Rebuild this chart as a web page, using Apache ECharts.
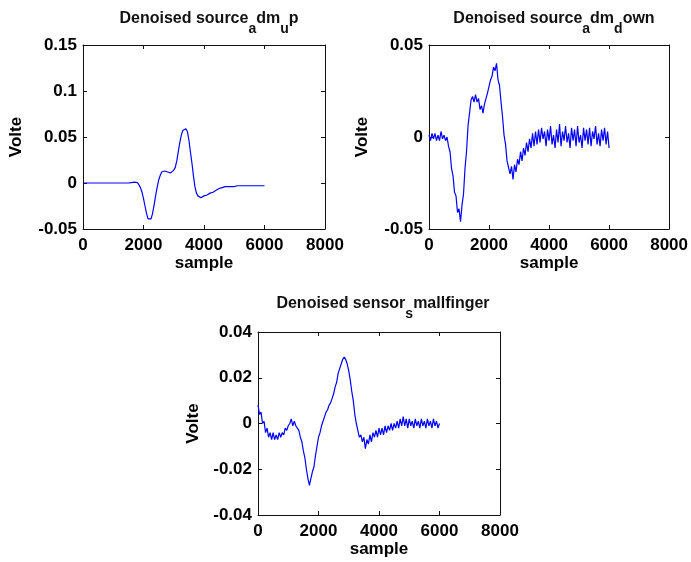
<!DOCTYPE html>
<html>
<head>
<meta charset="utf-8">
<script src="https://cdn.jsdelivr.net/npm/echarts@6/dist/echarts.min.js"></script>
<style>html,body{margin:0;padding:0;background:#fff}#c{width:691px;height:562px}</style>
</head>
<body>
<div id="c"></div>
<script>
// sample positions (every 50 samples, 0..6000)
const samples = [0,50,100,150,200,250,300,350,400,450,500,550,600,650,700,750,800,850,900,950,
1000,1050,1100,1150,1200,1250,1300,1350,1400,1450,1500,1550,1600,1650,1700,1750,1800,1850,1900,1950,
2000,2050,2100,2150,2200,2250,2300,2350,2400,2450,2500,2550,2600,2650,2700,2750,2800,2850,2900,2950,
3000,3050,3100,3150,3200,3250,3300,3350,3400,3450,3500,3550,3600,3650,3700,3750,3800,3850,3900,3950,
4000,4050,4100,4150,4200,4250,4300,4350,4400,4450,4500,4550,4600,4650,4700,4750,4800,4850,4900,4950,
5000,5050,5100,5150,5200,5250,5300,5350,5400,5450,5500,5550,5600,5650,5700,5750,5800,5850,5900,5950,6000];

// Denoised source_a dm_u p
const upValues = [
0,0,0,0,0,0,0,0,0,0,0,0,0,0,0,0,0,0,0,0,
0,0,0,0,0,0,0,0,0,0,0,0,0.0005,0.001,0.001,0.001,0.0005,-0.002,-0.005,-0.010,
-0.017,-0.025,-0.033,-0.039,-0.040,-0.039,-0.033,-0.024,-0.014,-0.005,0.003,0.008,0.012,0.013,0.013,0.013,0.012,0.012,0.011,0.012,
0.014,0.017,0.024,0.034,0.044,0.052,0.057,0.059,0.059,0.056,0.047,0.034,0.022,0.008,-0.004,-0.011,-0.014,-0.016,-0.016,-0.015,
-0.014,-0.013,-0.013,-0.012,-0.011,-0.011,-0.010,-0.009,-0.008,-0.007,-0.006,-0.006,-0.005,-0.005,-0.004,-0.004,-0.004,-0.004,-0.004,-0.004,
-0.004,-0.003,-0.003,-0.003,-0.003,-0.003,-0.003,-0.003,-0.003,-0.003,-0.003,-0.003,-0.003,-0.003,-0.003,-0.003,-0.003,-0.003,-0.003,-0.003,-0.003];

// Denoised source_a dm_d own
const downValues = [
0.001,-0.002,0.002,-0.001,0.002,-0.002,0.001,-0.002,0.003,-0.001,0.001,-0.002,0.000,-0.005,-0.008,-0.017,-0.021,-0.030,-0.032,-0.041,
-0.039,-0.046,-0.037,-0.031,-0.017,-0.008,0.006,0.013,0.020,0.022,0.019,0.023,0.019,0.021,0.015,0.017,0.013,0.018,0.017,0.024,
0.025,0.031,0.033,0.038,0.036,0.040,0.031,0.028,0.019,0.011,0.001,-0.004,-0.013,-0.014,-0.020,-0.016,-0.023,-0.015,-0.019,-0.012,
-0.015,-0.008,-0.013,-0.006,-0.010,-0.003,-0.008,-0.001,-0.006,0.002,-0.005,0.003,-0.004,0.004,-0.003,0.005,-0.001,0.003,-0.005,0.004,
-0.002,0.006,-0.004,0.001,-0.006,0.004,-0.003,0.007,-0.005,0.003,-0.002,0.006,-0.003,0.002,-0.006,0.005,-0.002,0.004,-0.005,0.006,
-0.003,0.001,-0.006,0.005,-0.002,0.004,-0.004,0.005,-0.005,0.003,-0.001,0.006,-0.004,0.002,-0.005,0.004,-0.002,0.005,-0.004,0.003,-0.006];

// Denoised sensor_s mallfinger
const fingerValues = [
0.008,0.004,0.005,0.000,0.001,-0.004,-0.002,-0.006,-0.004,-0.007,-0.004,-0.007,-0.005,-0.007,-0.004,-0.006,-0.004,-0.005,-0.002,-0.003,
-0.001,0.000,0.002,-0.001,0.001,-0.001,-0.002,-0.003,-0.006,-0.008,-0.012,-0.015,-0.020,-0.024,-0.027,-0.024,-0.021,-0.019,-0.014,-0.010,
-0.006,-0.004,-0.001,0.001,0.003,0.005,0.006,0.008,0.009,0.011,0.013,0.016,0.018,0.022,0.024,0.026,0.028,0.029,0.028,0.026,
0.023,0.019,0.014,0.010,0.004,0.000,-0.003,-0.006,-0.005,-0.008,-0.006,-0.011,-0.007,-0.009,-0.005,-0.008,-0.004,-0.006,-0.003,-0.006,
-0.002,-0.005,-0.002,-0.005,-0.001,-0.004,-0.001,-0.003,0.000,-0.003,0.000,-0.002,0.001,-0.002,0.002,-0.001,0.003,-0.001,0.002,-0.002,
0.002,-0.001,0.001,-0.002,0.002,-0.001,0.001,-0.002,0.002,-0.001,0.001,-0.002,0.002,-0.001,0.001,-0.002,0.002,-0.001,0.001,-0.002,0.000];

const xTicks = {min: 0, max: 8000, interval: 2000};
const yTicks = [
  {min: -0.05, max: 0.15, interval: 0.05},
  {min: -0.05, max: 0.05, interval: 0.05},
  {min: -0.04, max: 0.04, interval: 0.02}
];
const titles = [
  ['Denoised source', 'a', 'dm', 'u', 'p'],
  ['Denoised source', 'a', 'dm', 'd', 'own'],
  ['Denoised sensor', 's', 'mallfinger']
];
const seriesValues = [upValues, downValues, fingerValues];

const FONT = '"Liberation Sans", Arial, sans-serif';
const grids = [
  {left: 83, top: 45, width: 242, height: 184},
  {left: 429, top: 45, width: 241, height: 184},
  {left: 258, top: 332, width: 242, height: 183}
];
const titlePos = [{left: 204, top: 6}, {left: 549, top: 6}, {left: 378, top: 291}];
const yNameGap = [58, 58, 56];

function titleText(parts) {
  return parts.map((p, i) => (i % 2 === 0 ? '{m|' + p + '}' : '{s|' + p + '}')).join('');
}
const fmt = v => String(+(+v).toFixed(4));

const xAxis = [], yAxis = [], series = [], title = [];
grids.forEach((g, i) => {
  const axisLine = {show: true, onZero: false, lineStyle: {color: '#111', width: 1}};
  const axisTick = {show: true, inside: true, length: 4, lineStyle: {color: '#111'}};
  const lab = {color: '#000', fontFamily: FONT, fontWeight: 'bold', fontSize: 17};
  xAxis.push({type: 'value', gridIndex: i, min: xTicks.min, max: xTicks.max, interval: xTicks.interval,
    axisLine, axisTick, splitLine: {show: false},
    axisLabel: Object.assign({margin: 8, formatter: fmt}, lab),
    name: 'sample', nameLocation: 'middle', nameGap: 25, nameTextStyle: lab});
  xAxis.push({type: 'value', gridIndex: i, position: 'top', min: xTicks.min, max: xTicks.max, interval: xTicks.interval,
    axisLine, axisTick, splitLine: {show: false}, axisLabel: {show: false}});
  const yt = yTicks[i];
  yAxis.push({type: 'value', gridIndex: i, min: yt.min, max: yt.max, interval: yt.interval,
    axisLine, axisTick, splitLine: {show: false},
    axisLabel: Object.assign({margin: 6, formatter: fmt}, lab),
    name: 'Volte', nameLocation: 'middle', nameGap: yNameGap[i], nameRotate: 90, nameTextStyle: lab});
  yAxis.push({type: 'value', gridIndex: i, position: 'right', min: yt.min, max: yt.max, interval: yt.interval,
    axisLine, axisTick, splitLine: {show: false}, axisLabel: {show: false}});
  series.push({type: 'line', xAxisIndex: 2 * i, yAxisIndex: 2 * i,
    data: samples.map((s, k) => [s, seriesValues[i][k]]),
    showSymbol: false, symbol: 'none', animation: false,
    lineStyle: {color: '#0000ff', width: 1.2}});
  title.push({text: titleText(titles[i]), left: titlePos[i].left, top: titlePos[i].top, textAlign: 'center',
    textStyle: {rich: {
      m: {fontFamily: FONT, fontWeight: 'bold', fontSize: 16, color: '#111', lineHeight: 17, verticalAlign: 'top'},
      s: {fontFamily: FONT, fontWeight: 'bold', fontSize: 14, color: '#111', lineHeight: 14, padding: [11, 0, 0, 0], verticalAlign: 'top'}
    }}});
});
grids.forEach(g => g.containLabel = false);

const chart = echarts.init(document.getElementById('c'), null, {renderer: 'canvas'});
chart.setOption({animation: false, backgroundColor: '#fff', title, grid: grids, xAxis, yAxis, series});
</script>
</body>
</html>
